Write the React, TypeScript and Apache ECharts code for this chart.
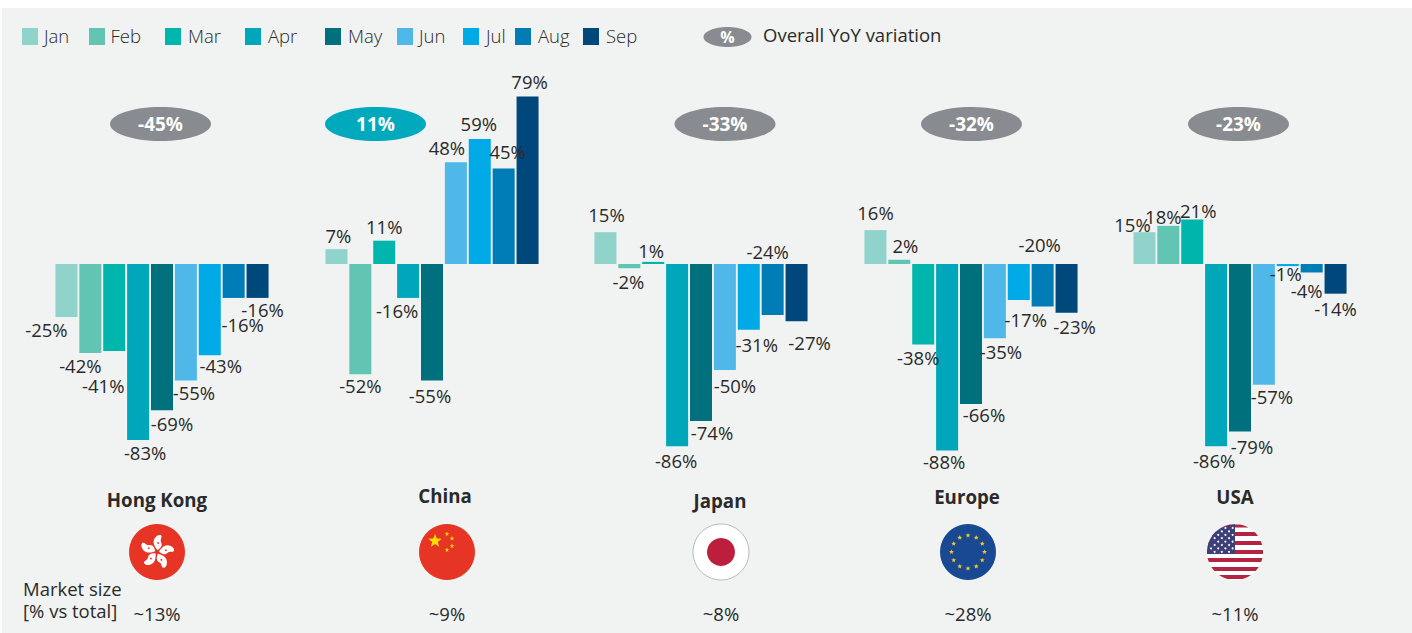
import React, { useEffect, useRef } from "react";
import * as echarts from "echarts";

const months = ["Jan", "Feb", "Mar", "Apr", "May", "Jun", "Jul", "Aug", "Sep"];
const monthColors = ["#8fd3ca", "#62c5b3", "#00b5ab", "#00a7bb", "#00707c", "#4fb8e8", "#00aae7", "#007cb6", "#00487c"];
const countries = ["Hong Kong", "China", "Japan", "Europe", "USA"];
const hongKong = [-25, -42, -41, -83, -69, -55, -43, -16, -16];
const china = [7, -52, 11, -16, -55, 48, 59, 45, 79];
const japan = [15, -2, 1, -86, -74, -50, -31, -24, -27];
const europe = [16, 2, -38, -88, -66, -35, -17, -20, -23];
const usa = [15, 18, 21, -86, -79, -57, -1, -4, -14];
const overallYoY = [-45, 11, -33, -32, -23];
const marketSize = ["~13%", "~9%", "~8%", "~28%", "~11%"];

const seriesValues = [hongKong, china, japan, europe, usa];

// layout, kept apart from the data
const gridLefts = [54.5, 324.5, 593.5, 863.5, 1132.5];
const pillCentres = [160.5, 375.5, 725, 971.5, 1238.5];
const nameCentres = [157, 445, 720, 967, 1235];
const nameYs = [500, 496, 501, 497, 497];
const flagCentres = [157, 447, 721, 968, 1235];
const legendRectXs = [22, 89, 165, 245, 325, 397, 463, 515, 583];
const legendTextXs = [44, 110.5, 188, 268, 348, 419, 486, 538, 606];
const labelShifts: number[][][] = [
  [[-20, -1], [-10, -1], [-11, 21], [7, -1], [10, 0], [8, -2], [11, -3], [9, 13], [5, -2]],
  [[2, 1], [0, -2], [0, 0], [-11, -1], [-2, 1], [-9, 0], [-1, -1], [4, -3], [2, -1]],
  [[1, -3], [-1, 0], [-2, 3], [-1, 1], [11, -2], [10, 2], [8, 1], [-5, -77], [13, 8]],
  [[0, -3], [6, 0], [-5, -1], [-3, -3], [13, -3], [6, 0], [7, 6], [-3, -75], [8, 0]],
  [[-12, 7], [-5, 5], [6, 6], [-2, 1], [12, 2], [8, -2], [-2, -6], [-5, 5], [0, 1]],
];

const FONT = "'Open Sans', 'Noto Sans', sans-serif";
const INK = "#2a2a2a";
const GREY = "#888b8f";
const TEAL = "#00a9bc";

echarts.graphic.registerShape(
  "hkPetal",
  echarts.graphic.extendPath("M0 -2 C-3 -5 -6 -9 -4 -13 C-3 -16 0 -18 2 -17 C4 -15 1 -13 3 -10 C5 -7 3 -4 0 -2 Z", {})
);

const star = (cx: number, cy: number, r: number) => {
  const pts: number[][] = [];
  for (let i = 0; i < 10; i++) {
    const a = -Math.PI / 2 + (i * Math.PI) / 5;
    const rr = i % 2 ? r * 0.42 : r;
    pts.push([cx + rr * Math.cos(a), cy + rr * Math.sin(a)]);
  }
  return { type: "polygon", shape: { points: pts } };
};

// a horizontal band of a circle, optionally cut at xLimit on its right
const band = (cx: number, cy: number, r: number, y0: number, y1: number, xLimit = Infinity) => {
  const right: number[][] = [];
  const left: number[][] = [];
  const n = 8;
  for (let i = 0; i <= n; i++) {
    const y = y0 + ((y1 - y0) * i) / n;
    const w = Math.sqrt(Math.max(0, r * r - (y - cy) * (y - cy)));
    right.push([Math.min(cx + w, xLimit), y]);
    left.unshift([cx - w, y]);
  }
  return { type: "polygon", shape: { points: [...right, ...left] } };
};

const text = (t: string, x: number, y: number, o: any = {}) => ({
  type: "text",
  z: 10,
  style: {
    text: t,
    x,
    y: y - 1,
    fill: o.fill || INK,
    font: `${o.weight || 400} ${o.size || 18.5}px ${FONT}`,
    textAlign: o.align || "center",
    textVerticalAlign: "middle",
    verticalAlign: "middle",
  },
});

const flags = () => {
  const R = 28;
  const cy = 552;
  const out: any[] = [];
  // Hong Kong
  const hk = flagCentres[0];
  out.push({ type: "circle", shape: { cx: hk, cy, r: R }, style: { fill: "#e73525" } });
  for (let i = 0; i < 5; i++) {
    const rot = -(i * 2 * Math.PI) / 5 - 0.12;
    out.push({ type: "hkPetal", x: hk, y: cy, rotation: rot, style: { fill: "#ffffff" } });
    const a = -rot;
    out.push({
      type: "circle",
      shape: { cx: hk + 9 * Math.sin(a), cy: cy - 9 * Math.cos(a), r: 0.9 },
      style: { fill: "#e73525" },
    });
  }
  // China
  const cn = flagCentres[1];
  out.push({ type: "circle", shape: { cx: cn, cy, r: R }, style: { fill: "#e73525" } });
  const yellow = { fill: "#ffdc00" };
  out.push({ ...star(cn - 12, cy - 11, 7), style: yellow });
  [[0, -18], [5, -13.5], [5, -6], [0, -2]].forEach(([dx, dy]) =>
    out.push({ ...star(cn + dx, cy + dy, 2.4), style: yellow })
  );
  // Japan
  const jp = flagCentres[2];
  out.push({ type: "circle", shape: { cx: jp, cy, r: R }, style: { fill: "#ffffff", stroke: "#b9bbbb", lineWidth: 1 } });
  out.push({ type: "circle", shape: { cx: jp, cy, r: 14 }, style: { fill: "#bc1e3c" } });
  // Europe
  const eu = flagCentres[3];
  out.push({ type: "circle", shape: { cx: eu, cy, r: R }, style: { fill: "#1a4993" } });
  for (let i = 0; i < 12; i++) {
    const a = (i * Math.PI) / 6;
    out.push({ ...star(eu + 16.5 * Math.cos(a), cy + 16.5 * Math.sin(a), 2.6), style: { fill: "#fbc81f" } });
  }
  // USA
  const us = flagCentres[4];
  out.push({ type: "circle", shape: { cx: us, cy, r: R }, style: { fill: "#ffffff" } });
  [524.5, 532, 541, 550, 558, 567, 575].forEach((y) =>
    out.push({ ...band(us, cy, R, y, Math.min(y + (y < 530 ? 3 : 4), 580)), style: { fill: "#b4233f" } })
  );
  out.push({ ...band(us, cy, R, 524, 554, us), style: { fill: "#3d3f78" } });
  for (let row = 0; row < 8; row++) {
    for (let col = 0; col < 7; col++) {
      const x = us - 24 + col * 3.6 * 2 - (row % 2 ? 3.6 : 0);
      const y = 528 + row * 3.4;
      if (x < us - 1 && (x - us) ** 2 + (y - cy) ** 2 < (R - 2) ** 2) {
        out.push({ type: "circle", shape: { cx: x, cy: y, r: 1 }, style: { fill: "#ffffff" } });
      }
    }
  }
  return out;
};

const buildOption = () => {
  const graphicEls: any[] = [
    { type: "rect", z: -10, shape: { x: 2, y: 8, width: 1410, height: 625 }, style: { fill: "#f1f3f2" } },
  ];
  months.forEach((m, i) => {
    const x = legendRectXs[i];
    graphicEls.push({ type: "rect", shape: { x, y: 28, width: 16, height: 17 }, style: { fill: monthColors[i] } });
    graphicEls.push(text(m, legendTextXs[i], 36.5, { align: "left", size: 18.5, weight: 300 }));
  });
  graphicEls.push({ type: "ellipse", shape: { cx: 727.5, cy: 37, rx: 24, ry: 10 }, style: { fill: GREY } });
  graphicEls.push(text("%", 727.5, 38, { fill: "#fff", weight: 700, size: 16 }));
  graphicEls.push(text("Overall YoY variation", 763, 35, { align: "left" }));

  countries.forEach((c, i) => {
    const v = overallYoY[i];
    graphicEls.push({
      type: "ellipse",
      shape: { cx: pillCentres[i], cy: 124, rx: 50.5, ry: 17 },
      style: { fill: v > 0 ? TEAL : GREY },
    });
    graphicEls.push(text(`${v}%`, pillCentres[i], 124.5, { fill: "#fff", weight: 700, size: 19 }));
    graphicEls.push(text(c, nameCentres[i], nameYs[i], { weight: 700, size: 18.7 }));
    graphicEls.push(text(marketSize[i], flagCentres[i], 614.5));
  });
  graphicEls.push(text("Market size", 23, 589, { align: "left" }));
  graphicEls.push(text("[% vs total]", 23, 611.5, { align: "left" }));
  graphicEls.push(...flags());

  return {
    animation: false,
    backgroundColor: "#ffffff",
    graphic: { elements: graphicEls },
    grid: gridLefts.map((left) => ({ left, top: 52, width: 215, height: 424 })),
    xAxis: countries.map((_, i) => ({ type: "category", gridIndex: i, data: months, show: false })),
    yAxis: countries.map((_, i) => ({ type: "value", gridIndex: i, min: -100, max: 100, show: false })),
    series: countries.map((c, i) => ({
      name: c,
      type: "bar",
      xAxisIndex: i,
      yAxisIndex: i,
      barWidth: 22,
      z: 3,
      data: seriesValues[i].map((value, j) => ({
        value,
        itemStyle: { color: monthColors[j] },
        label: {
          show: true,
          position: value < 0 ? "bottom" : "top",
          distance: 5,
          offset: [labelShifts[i][j][0], labelShifts[i][j][1] - (value < 0 ? 1 : 0)],
          formatter: `${value}%`,
          color: INK,
          fontSize: 18.5,
          fontFamily: FONT,
        },
      })),
    })),
  };
};

export default function App() {
  const ref = useRef<HTMLDivElement>(null);
  useEffect(() => {
    const chart = echarts.init(ref.current!, undefined, { renderer: "svg" });
    chart.setOption(buildOption() as any);
    return () => chart.dispose();
  }, []);
  return <div ref={ref} style={{ position: "fixed", left: 0, top: 0, width: 1412, height: 633 }} />;
}
